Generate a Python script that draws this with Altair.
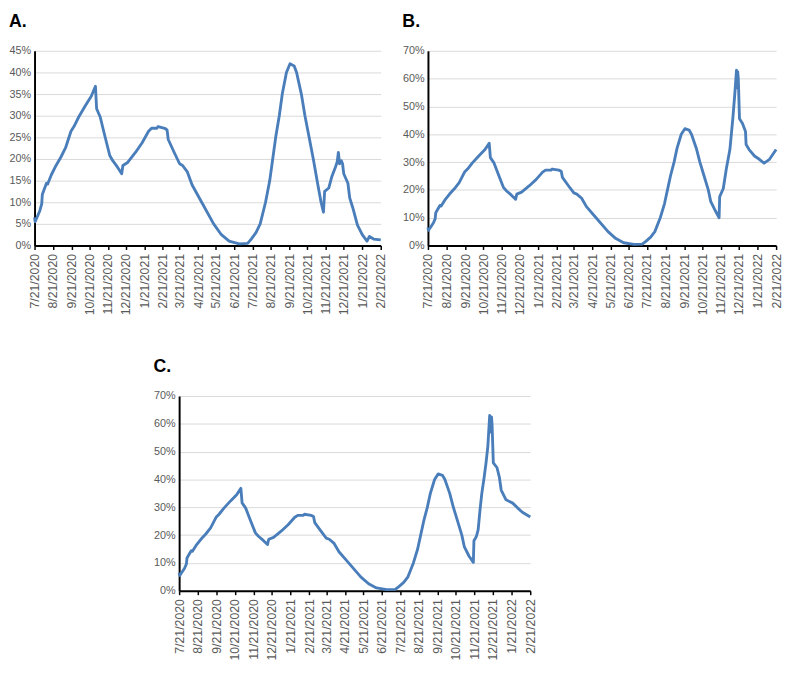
import altair as alt
import pandas as pd

# ---------------- data (percent values) ----------------
shared_dates = [
    "2020-07-21", "2020-07-22", "2020-07-30", "2020-08-02", "2020-08-03", "2020-08-07",
    "2020-08-10", "2020-08-12", "2020-08-18", "2020-08-26", "2020-09-03", "2020-09-11",
    "2020-09-20", "2020-09-25", "2020-10-03", "2020-10-14", "2020-10-24", "2020-10-31",
    "2020-11-02", "2020-11-08", "2020-11-16", "2020-11-24", "2020-11-29", "2020-12-07",
    "2020-12-14", "2020-12-16", "2020-12-24", "2021-01-06", "2021-01-17", "2021-01-28",
    "2021-02-02", "2021-02-11", "2021-02-13", "2021-02-24", "2021-02-28", "2021-03-02",
    "2021-03-12", "2021-03-21", "2021-03-26", "2021-04-03", "2021-04-11", "2021-04-27",
    "2021-05-17", "2021-05-30", "2021-06-12", "2021-06-29", "2021-07-13", "2021-07-19",
    "2021-07-27", "2021-08-03", "2021-08-12", "2021-08-19", "2021-08-24", "2021-08-29",
    "2021-09-04", "2021-09-09", "2021-09-16", "2021-09-22", "2021-09-29", "2021-10-03",
    "2021-10-11", "2021-10-17", "2021-10-24", "2021-10-31",
]
shared_vals = [
    6.5, 5.5, 8.1, 9.6, 11.8, 13.3,
    14.4, 14.2, 16.3, 18.5, 20.4, 22.6,
    26.4, 27.5, 29.7, 32.3, 34.5, 36.8,
    31.6, 29.7, 25.2, 20.8, 19.6, 18.1,
    16.6, 18.5, 19.2, 21.5, 23.7, 26.4,
    27.1, 27.1, 27.5, 27.1, 26.7, 24.5,
    21.5, 18.9, 18.5, 17.0, 14.0, 10.0,
    5.0, 2.5, 1.0, 0.4, 0.5, 1.5,
    3.0, 5.0, 10.0, 15.0, 20.0, 25.0,
    30.0, 35.0, 40.0, 42.0, 41.5, 40.0,
    35.0, 30.0, 25.0, 20.0,
]

a_tail_dates = [
    "2021-11-07", "2021-11-13", "2021-11-17", "2021-11-19", "2021-11-26", "2021-12-01",
    "2021-12-07", "2021-12-10", "2021-12-12", "2021-12-14", "2021-12-17", "2021-12-19",
    "2021-12-21", "2021-12-28", "2021-12-31", "2022-01-05", "2022-01-13", "2022-01-21",
    "2022-01-29", "2022-02-02", "2022-02-09", "2022-02-21",
]
a_tail_vals = [
    14.5, 10.0, 7.7, 12.5, 13.3, 15.9,
    18.1, 19.3, 21.5, 18.9, 19.6, 18.9,
    16.6, 14.4, 11.0, 8.8, 4.7, 2.5,
    1.0, 2.1, 1.5, 1.3,
]

b_tail_dates = [
    "2021-11-04", "2021-11-12", "2021-11-18", "2021-11-19", "2021-11-25", "2021-11-30",
    "2021-12-06", "2021-12-11", "2021-12-14", "2021-12-17", "2021-12-18", "2021-12-19",
    "2021-12-20", "2021-12-22", "2021-12-27", "2022-01-01", "2022-01-02", "2022-01-07",
    "2022-01-16", "2022-01-24", "2022-02-01", "2022-02-10", "2022-02-21",
]
b_tail_vals = [
    15.9, 12.4, 10.0, 17.6, 20.5, 27.5,
    34.5, 46.0, 54.0, 63.0, 56.7, 62.5,
    60.0, 45.6, 43.9, 41.0, 36.3, 34.5,
    32.2, 31.0, 29.6, 31.0, 34.5,
]

c_tail_dates = [
    "2021-11-04", "2021-11-12", "2021-11-19", "2021-11-20", "2021-11-24", "2021-11-27",
    "2021-11-30", "2021-12-03", "2021-12-07", "2021-12-10", "2021-12-13", "2021-12-16",
    "2021-12-17", "2021-12-19", "2021-12-20", "2021-12-22", "2021-12-28", "2022-01-01",
    "2022-01-04", "2022-01-12", "2022-01-23", "2022-01-31", "2022-02-08", "2022-02-19",
    "2022-02-21",
]
c_tail_vals = [
    15.9, 12.4, 10.2, 18.0, 19.5, 22.0,
    29.0, 35.0, 41.0, 46.0, 52.0, 63.0,
    57.0, 62.5, 59.5, 46.0, 44.3, 40.8,
    36.2, 32.7, 31.5, 29.8, 28.2, 26.8,
    26.5,
]

tick_dates = [
    "2020-07-21", "2020-08-21", "2020-09-21", "2020-10-21", "2020-11-21", "2020-12-21",
    "2021-01-21", "2021-02-21", "2021-03-21", "2021-04-21", "2021-05-21", "2021-06-21",
    "2021-07-21", "2021-08-21", "2021-09-21", "2021-10-21", "2021-11-21", "2021-12-21",
    "2022-01-21", "2022-02-21",
]
a_yticks = [0, 5, 10, 15, 20, 25, 30, 35, 40, 45]
bc_yticks = [0, 10, 20, 30, 40, 50, 60, 70]

# ---------------- helpers ----------------
LINE_COLOR = "#4a7ebb"
LABEL_COLOR = "#595959"
FONT = "Liberation Sans"


def ms(s):
    return int(pd.Timestamp(s, tz="UTC").value // 10**6)


tick_ms = [ms(d) for d in tick_dates]
x_domain = [tick_ms[0], tick_ms[-1]]


def frame(tail_dates, tail_vals):
    return pd.DataFrame({
        "date": shared_dates + tail_dates,
        "value": [v / 100 for v in shared_vals + tail_vals],
    })


def panel(df, yticks, title, width, height):
    return alt.Chart(df).mark_line(
        color=LINE_COLOR, strokeWidth=2.9, strokeJoin="round"
    ).encode(
        x=alt.X(
            "date:T",
            scale=alt.Scale(type="utc", domain=x_domain, nice=False),
            axis=alt.Axis(
                values=tick_ms,
                labelExpr="utcFormat(datum.value, '%-m/%d/%Y')",
                labelAngle=-90,
                labelFont=FONT,
                labelFontSize=12.5,
                labelColor=LABEL_COLOR,
                labelPadding=4,
                labelOverlap=False,
                labelBound=False,
                labelFlush=False,
                grid=False,
                ticks=True,
                tickColor="black",
                tickSize=4,
                tickWidth=1.5,
                domainColor="black",
                domainWidth=2,
            ),
            title=None,
        ),
        y=alt.Y(
            "value:Q",
            scale=alt.Scale(domain=[0, yticks[-1] / 100], nice=False),
            axis=alt.Axis(
                values=[t / 100 for t in yticks],
                format=".0%",
                labelFont=FONT,
                labelFontSize=11,
                labelColor=LABEL_COLOR,
                labelPadding=4,
                ticks=False,
                grid=True,
                gridColor="#d9d9d9",
                gridWidth=1,
                domainColor="black",
                domainWidth=2,
            ),
            title=None,
        ),
    ).properties(
        width=width,
        height=height,
        title=alt.TitleParams(
            title, anchor="start", frame="bounds", font=FONT, fontSize=18,
            fontWeight="bold", color="black", offset=14,
        ),
    )


chart_a = panel(frame(a_tail_dates, a_tail_vals), a_yticks, "A.", 352, 198)
chart_b = panel(frame(b_tail_dates, b_tail_vals), bc_yticks, "B.", 354, 198)
chart_c = panel(frame(c_tail_dates, c_tail_vals), bc_yticks, "C.", 357, 198)

spacer = alt.Chart(pd.DataFrame({"v": [0]})).mark_point(opacity=0).properties(
    width=120, height=10
)

top_row = alt.hconcat(chart_a, chart_b, spacing=14)
bottom_row = alt.hconcat(spacer, chart_c, spacing=0)

chart = alt.vconcat(top_row, bottom_row, spacing=44).configure_view(
    stroke=None
).properties(padding=0, background="white")

chart.save("out.html", embed_options={"renderer": "svg", "actions": False})
